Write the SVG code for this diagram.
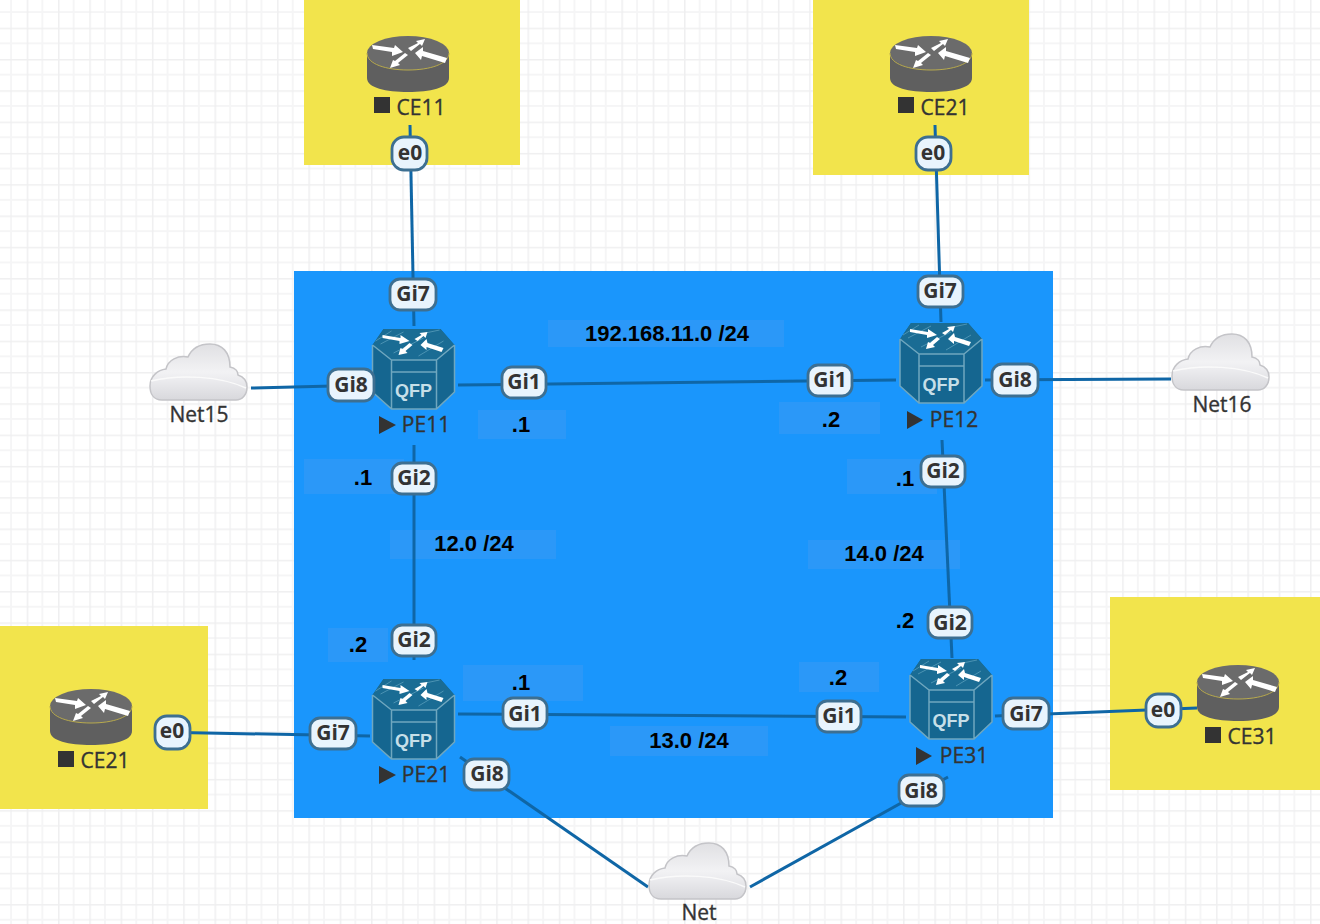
<svg xmlns="http://www.w3.org/2000/svg" width="1320" height="924" viewBox="0 0 1320 924">
<style>
.pl{fill:#e8f4fd;stroke:#3d6f91;stroke-width:2.8}
.pt{font:bold 21px "Open Sans","DejaVu Sans",sans-serif;fill:#333;text-anchor:middle}
.nt{font:21px "Open Sans","DejaVu Sans",sans-serif;fill:#333;stroke:#333;stroke-width:.35;text-anchor:middle}
.at{font:bold 22px "Liberation Sans",Arial,sans-serif;fill:#000;text-anchor:middle}
.ab{fill:#2b98f8}
.cn{stroke:#0f66a6;stroke-width:3;fill:none}
.yl{fill:#f2e44c}
.m{fill:#333}
</style>
<defs>
<pattern id="g" width="31.3" height="31.3" patternUnits="userSpaceOnUse" x="26.700" y="27.700">
<path d="M15.650 0V31.3M0 15.650H31.3" stroke="#f5f5f6" stroke-width="2"/>
<path d="M0 0V31.3M0 0H31.3" stroke="#efeff0" stroke-width="3" fill="none"/>
</pattern>
<linearGradient id="cg" x1="0" y1="0" x2="0" y2="1"><stop offset="0" stop-color="#e0e0e3"/><stop offset="0.5" stop-color="#f2f2f4"/><stop offset="0.65" stop-color="#ebebee"/><stop offset="1" stop-color="#d8d8dc"/></linearGradient>
<g id="wa1" fill="#fff">
<path d="M-36 9L-14 12L-13 9L-5 16L-16 20L-16 16L-35 13Z"/>
<path d="M0 12L10 7L8 5L17 3L14 10L12 8L3 15Z"/>
<path d="M0 19L-10 27L-8 29L-18 32L-15 24L-13 25L-3 17Z"/>
<path d="M7 17L15 11L15 15L39 22L37 27L14 20L13 24Z"/>
</g>
<g id="wa2" fill="#fff">
<path d="M-31 6L-13 9L-13 6L-4 12L-14 15L-14 12L-31 9Z"/>
<path d="M1 10L8 6L6 4L14 3L12 9L10 7L4 12Z"/>
<path d="M-1 16L-8 22L-6 24L-15 26L-13 19L-11 20L-4 14Z"/>
<path d="M7 16L13 10L14 14L30 19L28 23L13 18L13 21Z"/>
</g>
<g id="router">
<path d="M-41 17V42C-41 52-22 56 0 56C22 56 41 52 41 42V17Z" fill="#5f5f5f"/>
<ellipse cx="0" cy="17" rx="41" ry="17" fill="#6b6b6b"/>
<path d="M-41 17C-41 28-22 34 0 34C22 34 41 28 41 17" fill="none" stroke="#b9ab4e" stroke-width="1"/>
<use href="#wa1"/>
</g>
<g id="qfp">
<path d="M-30 0H27L41 16V63L23 80H-22L-41 63V16Z" fill="#156690"/>
<path d="M-41 16L-30 0H27L41 16L23 31H-22Z" fill="#1a6c94"/>
<path d="M-33 15L-10 3M-20 24L10 9M5 27L30 12M-38 12L-22 2M12 4L26 1" stroke="#4b93b3" stroke-width="1" fill="none"/>
<path d="M-41 16L-22 31V80M41 16L23 31V80M-22 31H23M-22 43H23M-41 16V63L-22 80H23L41 63V16" stroke="#6fa7bf" stroke-width="1.500" fill="none"/>
<use href="#wa2"/>
<text x="0" y="68" text-anchor="middle" style="font:bold 18px 'Liberation Sans',Arial,sans-serif" fill="#c6dfe8">QFP</text>
</g>
<g id="cloud">
<path d="M12 56C3 56 0 49 0 42C0 32 8 26 16 25C18 16 28 11 38 13C42 4 50 0 60 0C72 0 80 8 80 23C86 24 88 28 88 31C94 33 97 38 97 43C97 51 92 56 86 56Z" fill="url(#cg)" stroke="#c4c4c8" stroke-width="1.5"/>
<path d="M1 37C30 30 70 32 96 44" stroke="#fafafa" stroke-width="1.5" fill="none"/>
</g>
</defs>
<rect width="1320" height="924" fill="#fff"/>
<rect width="1320" height="924" fill="url(#g)"/>
<rect x="304" y="0" width="216" height="165" class="yl"/>
<rect x="813" y="0" width="216" height="175" class="yl"/>
<rect x="0" y="626" width="208" height="183" class="yl"/>
<rect x="1110" y="597" width="210" height="193" class="yl"/>
<rect x="294" y="271" width="759" height="547" fill="#1a96fc"/>
<g id="annotations">
<rect x="548" y="320" width="236" height="27" class="ab"/><text x="667" y="341" class="at">192.168.11.0 /24</text>
<rect x="478" y="410" width="88" height="29" class="ab"/><text x="521" y="432" class="at">.1</text>
<rect x="779" y="402" width="101" height="32" class="ab"/><text x="831" y="427" class="at">.2</text>
<rect x="304" y="459" width="100" height="35" class="ab"/><text x="363" y="485" class="at">.1</text>
<rect x="847" y="459" width="90" height="35" class="ab"/><text x="905" y="486" class="at">.1</text>
<rect x="390" y="530" width="166" height="29" class="ab"/><text x="474" y="551" class="at">12.0 /24</text>
<rect x="808" y="540" width="152" height="29" class="ab"/><text x="884" y="561" class="at">14.0 /24</text>
<text x="905" y="628" class="at">.2</text>
<rect x="328" y="628" width="60" height="34" class="ab"/><text x="358" y="652" class="at">.2</text>
<rect x="463" y="665" width="120" height="36" class="ab"/><text x="521" y="690" class="at">.1</text>
<rect x="799" y="662" width="80" height="30" class="ab"/><text x="838" y="685" class="at">.2</text>
<rect x="610" y="726" width="158" height="30" class="ab"/><text x="689" y="748" class="at">13.0 /24</text>
</g>
<g id="connectors" class="cn">
<path d="M410 125L414 326"/>
<path d="M935 125L941 322"/>
<path d="M458 385L896 380"/>
<path d="M251 388L372 385"/>
<path d="M985 380L1171 379"/>
<path d="M414 445V660"/>
<path d="M942 440L952 658"/>
<path d="M458 714L906 717"/>
<path d="M155 732L370 736"/>
<path d="M995 716L1197 708"/>
<path d="M460 757L648 887"/>
<path d="M948 777L750 887"/>
</g>
<g id="CE11"><use href="#router" x="408" y="36"/><rect x="374" y="97" width="16" height="16" class="m"/><text x="421" y="115" class="nt">CE11</text></g>
<g id="CE21a"><use href="#router" x="931" y="36"/><rect x="898" y="97" width="16" height="16" class="m"/><text x="945" y="115" class="nt">CE21</text></g>
<g id="CE21b"><use href="#router" x="91" y="689"/><rect x="58" y="751" width="16" height="16" class="m"/><text x="105" y="768" class="nt">CE21</text></g>
<g id="CE31"><use href="#router" x="1238" y="665"/><rect x="1205" y="727" width="16" height="16" class="m"/><text x="1252" y="744" class="nt">CE31</text></g>
<g id="PE11"><use href="#qfp" x="413.500" y="329"/><path d="M379 416L396 425L379 434Z" class="m"/><text x="426" y="432" class="nt">PE11</text></g>
<g id="PE12"><use href="#qfp" x="941" y="323"/><path d="M907 411L923 420L907 429Z" class="m"/><text x="954" y="427" class="nt">PE12</text></g>
<g id="PE21"><use href="#qfp" x="413.500" y="679"/><path d="M379 766L396 775L379 784Z" class="m"/><text x="426" y="782" class="nt">PE21</text></g>
<g id="PE31"><use href="#qfp" x="951" y="659"/><path d="M916 747L932 756L916 765Z" class="m"/><text x="964" y="763" class="nt">PE31</text></g>
<g id="Net15"><use href="#cloud" x="150" y="344"/><text x="199" y="422" class="nt">Net15</text></g>
<g id="Net16"><use href="#cloud" x="1172" y="334"/><text x="1222" y="412" class="nt">Net16</text></g>
<g id="Net"><use href="#cloud" x="649" y="843"/><text x="699" y="920" class="nt">Net</text></g>
<g id="ports">
<rect x="392" y="137" width="35" height="33" rx="12" class="pl"/><text x="410" y="160" class="pt">e0</text>
<rect x="916" y="137" width="35" height="33" rx="12" class="pl"/><text x="933" y="160" class="pt">e0</text>
<rect x="155" y="716" width="35" height="33" rx="12" class="pl"/><text x="172" y="738" class="pt">e0</text>
<rect x="1146" y="694" width="35" height="33" rx="12" class="pl"/><text x="1163" y="717" class="pt">e0</text>
<rect x="390" y="279" width="46" height="31" rx="10" class="pl"/><text x="413" y="301" class="pt">Gi7</text>
<rect x="918" y="276" width="45" height="31" rx="10" class="pl"/><text x="940" y="298" class="pt">Gi7</text>
<rect x="328" y="369" width="46" height="32" rx="10" class="pl"/><text x="351" y="392" class="pt">Gi8</text>
<rect x="992" y="364" width="46" height="32" rx="10" class="pl"/><text x="1015" y="387" class="pt">Gi8</text>
<rect x="502" y="367" width="44" height="31" rx="10" class="pl"/><text x="524" y="389" class="pt">Gi1</text>
<rect x="808" y="365" width="44" height="31" rx="10" class="pl"/><text x="830" y="387" class="pt">Gi1</text>
<rect x="392" y="463" width="44" height="31" rx="10" class="pl"/><text x="414" y="485" class="pt">Gi2</text>
<rect x="921" y="456" width="44" height="31" rx="10" class="pl"/><text x="943" y="478" class="pt">Gi2</text>
<rect x="392" y="625" width="44" height="31" rx="10" class="pl"/><text x="414" y="647" class="pt">Gi2</text>
<rect x="928" y="607" width="44" height="31" rx="10" class="pl"/><text x="950" y="630" class="pt">Gi2</text>
<rect x="503" y="698" width="44" height="31" rx="10" class="pl"/><text x="525" y="721" class="pt">Gi1</text>
<rect x="817" y="701" width="44" height="31" rx="10" class="pl"/><text x="839" y="723" class="pt">Gi1</text>
<rect x="310" y="718" width="46" height="31" rx="10" class="pl"/><text x="333" y="740" class="pt">Gi7</text>
<rect x="1003" y="698" width="46" height="31" rx="10" class="pl"/><text x="1026" y="721" class="pt">Gi7</text>
<rect x="464" y="759" width="45" height="31" rx="10" class="pl"/><text x="487" y="781" class="pt">Gi8</text>
<rect x="899" y="775" width="45" height="31" rx="10" class="pl"/><text x="921" y="798" class="pt">Gi8</text>
</g>
</svg>
